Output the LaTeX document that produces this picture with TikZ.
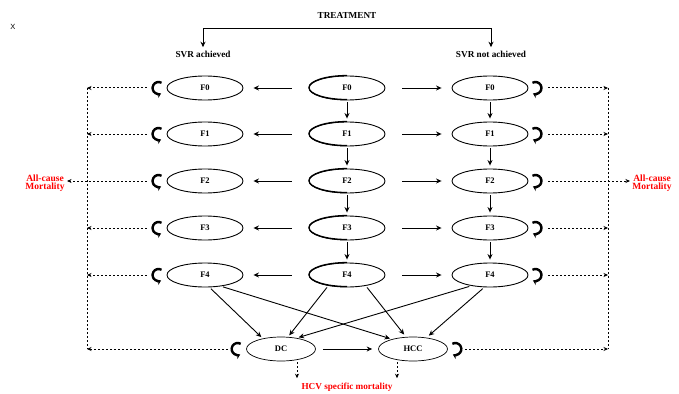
\documentclass[tikz,border=0pt]{standalone}
\usepackage{fontspec}
\setmainfont{Liberation Serif}
\newfontfamily\xsans{Liberation Sans}
\usetikzlibrary{arrows.meta,shapes.geometric,calc}
\begin{document}
\begin{tikzpicture}[x=1pt,y=-1pt,
  st/.style={ellipse,draw,line width=0.9pt,minimum width=76pt,minimum height=24pt,inner sep=0pt,font=\bfseries\fontsize{8.5}{9}\selectfont},
  fin/.style={ellipse,draw,line width=0.7pt,minimum width=69pt,minimum height=24pt,inner sep=0pt,font=\bfseries\fontsize{8.5}{9}\selectfont},
  arr/.style={line width=0.9pt,-{Stealth[length=5.5pt,width=5pt]}},
  dotarr/.style={line width=1pt,dash pattern=on 2pt off 2pt,-{Stealth[length=4.5pt,width=4pt]}},
  dotline/.style={line width=1pt,dash pattern=on 2pt off 2pt},
  lp/.style={line width=2.4pt,-{Stealth[length=4.5pt,width=6pt]}},
  lbl/.style={font=\bfseries\fontsize{9.2}{10}\selectfont},
  mort/.style={font=\bfseries\fontsize{9.5}{10}\selectfont,text=red,align=center}
]
\useasboundingbox (0,0) rectangle (679,393);
\fill[white] (0,0) rectangle (679,393);

\node[font=\xsans\fontsize{7.5}{8}\selectfont] (xlab) at (13,27) {X};
\node[lbl] (treat) at (347,15) {TREATMENT};
\coordinate (bar) at (347,28);
\node[lbl] (svrA) at (203,54) {SVR achieved};
\node[lbl] (svrN) at (491,54) {SVR not achieved};
\draw[arr] (bar) -| (svrA.north);
\draw[arr] (bar) -| (svrN.north);

\node[mort] (mL) at (45,183) {All-cause\\[-2pt]Mortality};
\node[mort] (mR) at (652,183) {All-cause\\[-2pt]Mortality};
\node[mort,font=\bfseries\fontsize{9.2}{10}\selectfont] (hcv) at (347,387) {HCV specific mortality};

\coordinate (vlL) at (87,88);
\coordinate (vlLb) at (87,349);
\coordinate (vlR) at (608,88);
\coordinate (vlRb) at (608,349);
\draw[dotline] (vlL) -- (vlLb);
\draw[dotline] (vlR) -- (vlRb);

\foreach \i/\y in {0/88,1/134,2/181,3/228,4/275}{
  \node[st] (L\i) at (205,\y) {F\i};
  \node[st] (C\i) at (347,\y) {F\i};
  \node[st] (R\i) at (490,\y) {F\i};
  \draw[line width=1.3pt] (C\i.north) arc[start angle=90,end angle=270,x radius=38pt,y radius=12pt];
  \draw[arr,shorten <=17pt,shorten >=10pt] (C\i.west) -- (L\i.east);
  \draw[arr,shorten <=17pt,shorten >=10pt] (C\i.east) -- (R\i.west);
  \coordinate (lc\i) at ([xshift=-8pt]L\i.west);
  \coordinate (rc\i) at ([xshift=7pt]R\i.east);
  \draw[lp] ($(lc\i)+(60:6pt)$) arc[start angle=60,end angle=295,radius=6pt];
  \draw[lp] ($(rc\i)+(120:6pt)$) arc[start angle=120,end angle=-115,radius=6pt];
}
\foreach \i in {0,1,3,4}{
  \draw[dotarr] ([xshift=-12pt]lc\i) -- (lc\i -| vlL);
  \draw[dotarr] ([xshift=13pt]rc\i) -- (rc\i -| vlR);
}
\draw[dotarr] ([xshift=-12pt]lc2) -- ([xshift=-1pt]lc2 -| mL.east);
\draw[dotarr] ([xshift=13pt]rc2) -- ([xshift=1pt]rc2 -| mR.west);

\foreach \a/\b in {0/1,1/2,2/3,3/4}{
  \draw[arr,shorten <=2pt,shorten >=3pt] (C\a.south) -- (C\b.north);
  \draw[arr,shorten <=2pt,shorten >=3pt] (R\a.south) -- (R\b.north);
}

\node[fin] (DC) at (281,349) {DC};
\node[fin] (HCC) at (413,349) {HCC};
\coordinate (lcD) at ([xshift=-8.5pt]DC.west);
\coordinate (rcH) at ([xshift=7.5pt]HCC.east);
\draw[lp] ($(lcD)+(60:6pt)$) arc[start angle=60,end angle=295,radius=6pt];
\draw[lp] ($(rcH)+(120:6pt)$) arc[start angle=120,end angle=-115,radius=6pt];
\draw[dotarr] ([xshift=-10pt]lcD) -- (lcD -| vlL);
\draw[dotarr] ([xshift=10pt]rcH) -- (rcH -| vlR);
\draw[arr,shorten <=7pt,shorten >=6pt] (DC.east) -- (HCC.west);
\draw[dotarr,shorten <=1pt] ([xshift=16pt]DC.south) -- ([xshift=16pt,yshift=1pt]DC.south |- hcv.north);
\draw[dotarr,shorten <=1pt] ([xshift=-16pt]HCC.south) -- ([xshift=-16pt,yshift=1pt]HCC.south |- hcv.north);

\draw[arr,shorten <=2pt,shorten >=2pt] (L4.-70) -- (DC.150);
\draw[arr,shorten <=2pt,shorten >=2pt] (L4.-35) -- (HCC.155);
\draw[arr,shorten <=2pt,shorten >=2pt] (C4.-150) -- (DC.60);
\draw[arr,shorten <=2pt,shorten >=3pt] (C4.-30) -- (HCC.120);
\draw[arr,shorten <=2pt,shorten >=2pt] (R4.-150) -- (DC.35);
\draw[arr,shorten <=2pt,shorten >=3pt] (R4.-115) -- (HCC.40);
\end{tikzpicture}
\end{document}
